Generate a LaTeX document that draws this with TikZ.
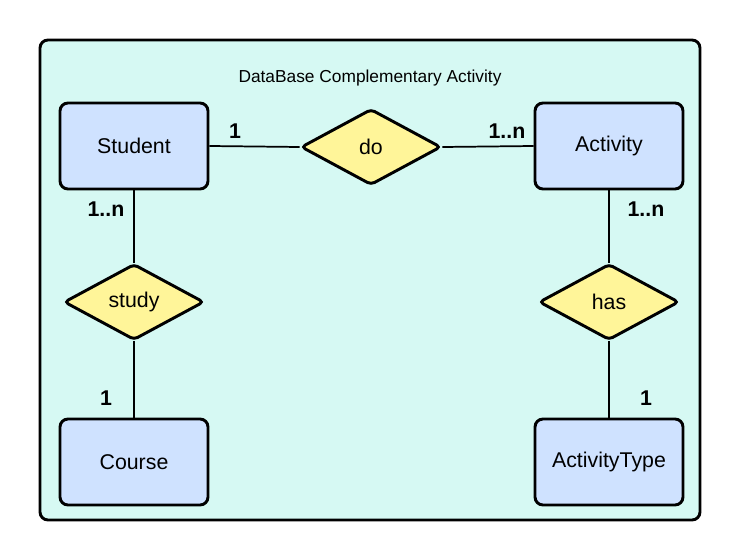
\documentclass[tikz,border=0pt]{standalone}
\usepackage{fontspec}
\setmainfont{Liberation Sans}
\usepackage{xcolor}
\definecolor{ermint}{RGB}{214,249,243}
\definecolor{erblue}{RGB}{207,226,255}
\definecolor{eryellow}{RGB}{255,245,153}
\usetikzlibrary{positioning, shapes.geometric}

\tikzset{
  entity/.style={draw=black, line width=2.2pt, fill=erblue, rounded corners=6pt,
    minimum width=111pt, minimum height=64.5pt, font=\fontsize{16}{19}\selectfont},
  relation/.style={draw=black, line width=2.2pt, fill=eryellow, diamond, aspect=1.85,
    rounded corners=3pt, inner sep=0pt, minimum width=105pt, minimum height=57pt,
    font=\fontsize{16}{19}\selectfont},
  link/.style={line width=1.3pt},
  card/.style={font=\fontsize{16}{19}\selectfont\bfseries}
}

\begin{document}
\begin{tikzpicture}[x=0.75pt, y=-0.75pt]
  \useasboundingbox (0,0) rectangle (740,560);

  % Container
  \draw[fill=ermint, line width=2.2pt, rounded corners=6pt] (40,40) rectangle (700,520);
  \node[font=\fontsize{13}{16}\selectfont] (title) at (370,78) {DataBase Complementary Activity};

  % Entities
  \node[entity] (student) at (134,146) {Student};
  \node[entity] (activity) at (609,146) {Activity};
  \node[entity] (course) at (134,462) {Course};
  \node[entity] (acttype) at (609,462) {ActivityType};

  % Relations
  \node[relation] (do) at (371,147) {do};
  \node[relation] (study) at (134,302) {study};
  \node[relation] (has) at (609,302) {has};

  % Connectors
  \draw[link] (student.east) -- (do.west);
  \draw[link] (do.east) -- (activity.west);
  \draw[link] (student.south) -- (study.north);
  \draw[link] (study.south) -- (course.north);
  \draw[link] (activity.south) -- (has.north);
  \draw[link] (has.south) -- (acttype.north);

  % Cardinalities
  \node[card] (c1) at (235,131) {1};
  \node[card] (c2) at (507,131) {1..n};
  \node[card] (c3) at (106,209) {1..n};
  \node[card] (c4) at (106,398) {1};
  \node[card] (c5) at (646,209) {1..n};
  \node[card] (c6) at (646,398) {1};
\end{tikzpicture}
\end{document}
